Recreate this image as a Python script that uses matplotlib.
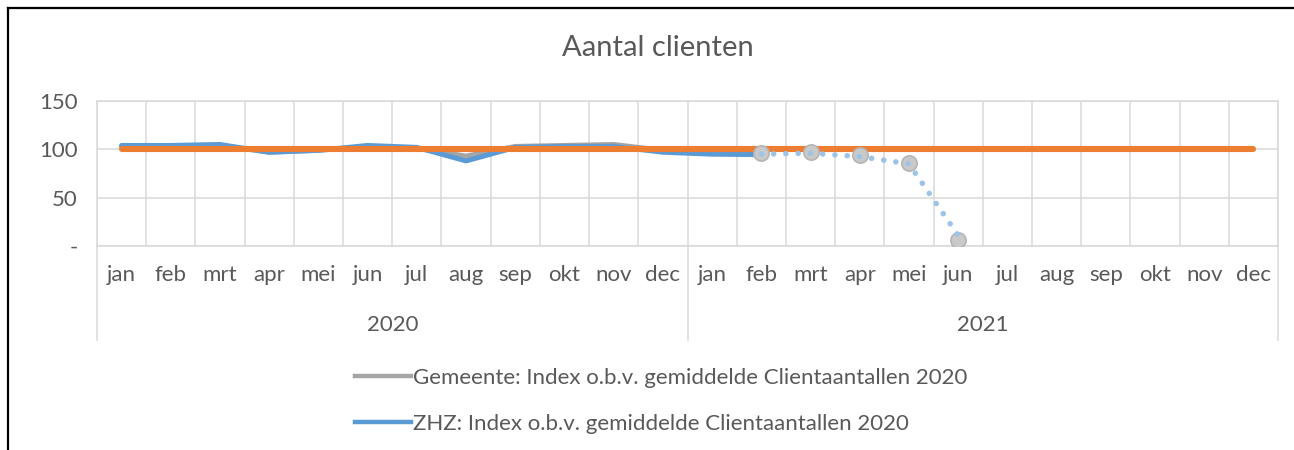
import numpy as np
import matplotlib.pyplot as plt
from matplotlib.lines import Line2D
import matplotlib.transforms as mtransforms

plt.rcParams['font.family'] = ['Lato', 'DejaVu Sans']

# --- data ---
months = ['jan', 'feb', 'mrt', 'apr', 'mei', 'jun', 'jul', 'aug', 'sep', 'okt', 'nov', 'dec'] * 2
years = ['2020', '2021']
gemeente = [103, 103, 104, 97, 99, 103, 101, 93, 103, 104, 105, 99, 97, 96.5]
zhz = [104, 104, 105, 97, 99, 104, 102, 88, 102, 103, 103, 97, 95, 94.5]
gemeente_prognose = [96.5, 97, 94, 85.5, 6.5]   # feb-jun 2021
zhz_prognose = [95, 96, 92.5, 85, 11]           # feb-jun 2021
basis = [100] * 24
yticks = [0, 50, 100, 150]
ylabels = ['-', '50', '100', '150']

text_col = '#595959'
grid_col = '#D9D9D9'

fig = plt.figure(figsize=(12.94, 4.5), dpi=100)
W, H = 1294, 450
ax = fig.add_axes([97 / W, 1 - 246 / H, (1278 - 97) / W, (246 - 101) / H])

x_hist = np.arange(len(gemeente))
x_prog = np.arange(13, 13 + len(gemeente_prognose))
x_all = np.arange(len(months))

ax.plot(x_hist, gemeente, color='#A5A5A5', lw=3.6, solid_capstyle='round', zorder=3)
ax.plot(x_hist, zhz, color='#5B9BD5', lw=3.6, solid_capstyle='round', zorder=4)
ax.plot(x_all, basis, color='#ED7D31', lw=4.4, solid_capstyle='round', zorder=5)
ax.plot(x_prog, gemeente_prognose, ls='none', marker='o', ms=11,
        mfc='#C9C9C9', mec='#B5B5B5', mew=1.2, zorder=6)
ax.plot(x_prog, zhz_prognose, color='#9DC3E6', lw=4.0, ls=(0, (0.01, 2.2)),
        dash_capstyle='round', zorder=7)

ax.set_xlim(-0.5, 23.5)
ax.set_ylim(0, 150)
ax.set_yticks(yticks, ylabels)
ax.set_xticks(x_all, months)
ax.set_xticks(np.arange(-0.5, 24, 1), minor=True)
ax.tick_params(axis='both', which='both', length=0, labelsize=16, colors=text_col)
ax.tick_params(axis='x', pad=14)
ax.tick_params(axis='y', pad=14)
ax.grid(True, axis='y', color=grid_col, lw=1.1)
ax.grid(True, axis='x', which='minor', color=grid_col, lw=1.1)
for s in ax.spines.values():
    s.set_color(grid_col)
    s.set_linewidth(1.1)

# year groups under the month labels
trans = mtransforms.blended_transform_factory(ax.transData, ax.transAxes)
ybot = -(340 - 246) / (246 - 101)
for xs in [-0.5, 11.5, 23.5]:
    ax.plot([xs, xs], [0, ybot], color=grid_col, lw=1.1, transform=trans, clip_on=False)
for i, yr in enumerate(years):
    ax.text(5.5 + 12 * i, -(325 - 246) / (246 - 101), yr, transform=trans,
            ha='center', va='center', fontsize=16, color=text_col)

fig.text(0.5085, 1 - 48 / H, 'Aantal clienten', ha='center', va='center',
         fontsize=21, color=text_col)

handles = [Line2D([], [], color='#A5A5A5', lw=3.2),
           Line2D([], [], color='#5B9BD5', lw=3.2)]
labels = ['Gemeente: Index o.b.v. gemiddelde Clientaantallen 2020',
          'ZHZ: Index o.b.v. gemiddelde Clientaantallen 2020']
fig.legend(handles, labels, loc='upper left', bbox_to_anchor=(355 / W, 1 - 368 / H),
           frameon=False, fontsize=16, labelcolor=text_col, handlelength=2.5,
           handletextpad=0.1, labelspacing=1.15, borderpad=0, borderaxespad=0)

# chart border (left and top visible)
fig.add_artist(Line2D([8 / W, 8 / W], [0, 1 - 8 / H], color='black', lw=1.6))
fig.add_artist(Line2D([8 / W, 1], [1 - 8 / H, 1 - 8 / H], color='black', lw=1.6))

fig.savefig('out.png', dpi=100)
